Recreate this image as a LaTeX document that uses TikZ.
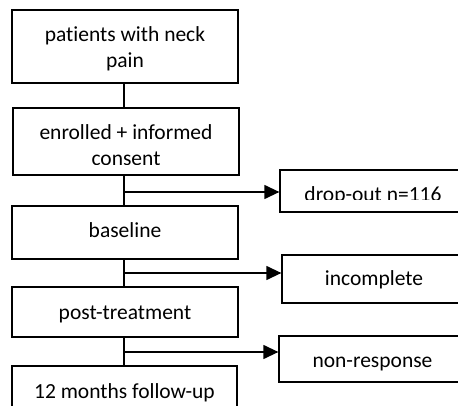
\documentclass[tikz,border=0pt]{standalone}
\usepackage{fontspec}
\setmainfont{Carlito}[RawFeature=-liga]
\usetikzlibrary{arrows.meta}
\begin{document}
\begin{tikzpicture}[x=1pt,y=-1pt,
  box/.style={draw, line width=1.3pt, inner sep=0pt, rectangle},
  txt/.style={inner sep=0pt, anchor=base, font=\fontsize{21.5}{26}\selectfont},
  link/.style={line width=1.3pt},
  arr/.style={line width=1.3pt, -{Triangle[length=15pt,width=14pt]}}]
\useasboundingbox (0,0) rectangle (458,406);
\clip (0,0) rectangle (458,406);
\coordinate (sp) at (124,0);
% left column
\node[box, minimum width=226, minimum height=73] (b1) at (125,46.5) {};
\node[box, minimum width=226, minimum height=67] (b2) at (126,141.5) {};
\node[box, minimum width=226, minimum height=53] (b3) at (125,232.5) {};
\node[box, minimum width=226, minimum height=50] (b4) at (125,312) {};
\node[box, minimum width=225, minimum height=54] (b5) at (124.5,393) {};
% right column
\node[box, minimum width=186, minimum height=42] (r1) at (373,191) {};
\node[box, minimum width=184, minimum height=48] (r2) at (374,279) {};
\node[box, minimum width=187, minimum height=46] (r3) at (372.5,359) {};
% texts
\node[txt] (t1a) at (125,42) {patients with neck};
\node[txt] (t1b) at (125,68) {pain};
\begin{scope}
\clip (b2.north west) rectangle (240,164.5);
\node[txt] (t2a) at (126,140) {enrolled + informed};
\node[txt] (t2b) at (126,166) {consent};
\end{scope}
\node[txt] (t3) at (125,238) {baseline};
\node[txt] (t4) at (125,319) {post-treatment};
\node[txt] (t5) at (124.5,398) {12 months follow-up};
\begin{scope}
\clip (r1.north west) rectangle (470,200);
\node[txt] (tr1) at (373,201.5) {drop-out n=116};
\end{scope}
\node[txt] (tr2) at (374,286) {incomplete};
\node[txt] (tr3) at (372.5,367) {non-response};
% connectors
\coordinate (j1) at (124,192);
\coordinate (j2) at (124,273);
\coordinate (j3) at (124,352);
\draw[link] (b1.south -| sp) -- (b2.north -| sp);
\draw[link] (b2.south -| sp) -- (b3.north -| sp);
\draw[link] (b3.south -| sp) -- (b4.north -| sp);
\draw[link] (b4.south -| sp) -- (b5.north -| sp);
\draw[arr] (j1) -- (j1 -| r1.west);
\draw[arr] (j2) -- (j2 -| r2.west);
\draw[arr] (j3) -- (j3 -| r3.west);
\end{tikzpicture}
\end{document}
